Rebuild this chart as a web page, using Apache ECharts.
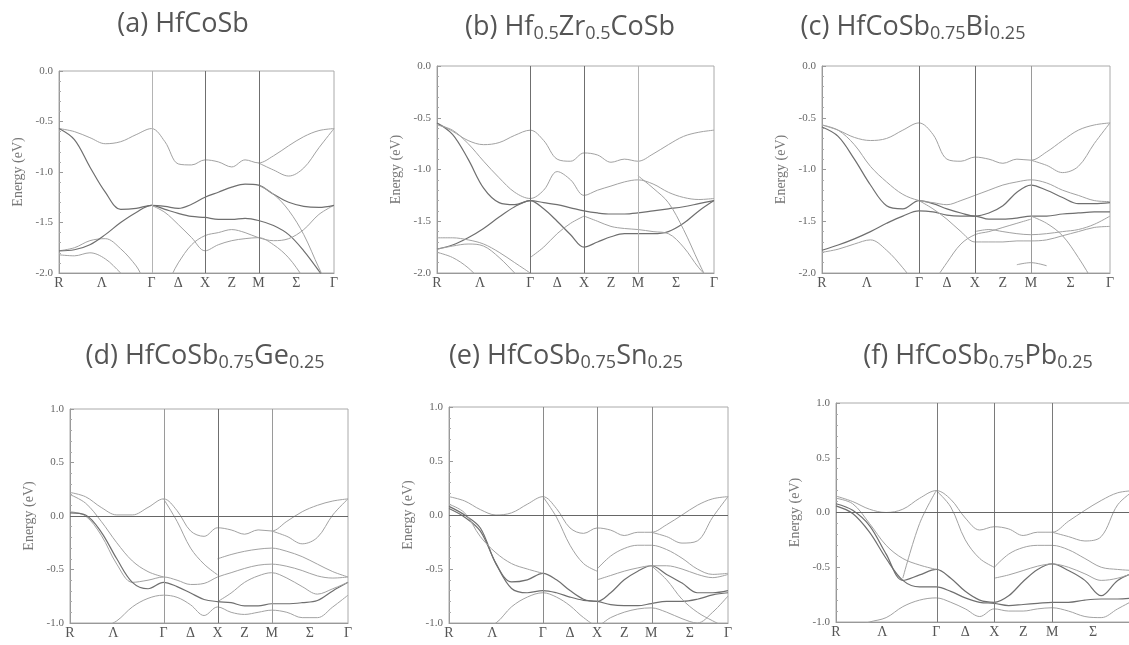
<!DOCTYPE html>
<html>
<head>
<meta charset="utf-8">
<script src="https://cdn.jsdelivr.net/npm/echarts@6/dist/echarts.min.js"></script>
<style>
  html, body { margin: 0; padding: 0; background: #ffffff; overflow: hidden; }
  #chart { width: 1129px; height: 645px; }
</style>
</head>
<body>
<div id="chart"></div>
<script>
const _ = null;

// k-path distance (units of 2π/a) at the sampled points along R → Γ → X → M → Γ
const kPoints = [0, 0.144, 0.289, 0.433, 0.577, 0.722, 0.866,
                 0.991, 1.116, 1.241, 1.366,
                 1.491, 1.616, 1.741, 1.866,
                 2.007, 2.149, 2.290, 2.432, 2.573];
const symmetryK = [0.866, 1.366, 1.866];
const tickK = [0, 0.40, 0.866, 1.116, 1.366, 1.616, 1.866, 2.22, 2.573];
const tickLabels = ['R', 'Λ', 'Γ', 'Δ', 'X', 'Z', 'M', 'Σ', 'Γ'];

// (a) HfCoSb — band energies (eV)
const bandsA = [
  [-0.57,-0.60,-0.66,-0.72,-0.70,-0.63,-0.57, -0.70,-0.92,-0.93,-0.88, -0.90,-0.95,-0.88,-0.91, -0.84,-0.74,-0.65,-0.59,-0.57],
  [-0.57,-0.68,-0.95,-1.20,-1.37,-1.36,-1.33, -1.37,-1.41,-1.44,-1.45, -1.47,-1.47,-1.46,-1.48, -1.53,-1.62,-1.78,-1.98,-2.20],
  [-1.78,-1.75,-1.68,-1.66,-1.76,-1.93,-2.15, -2.12,-1.90,-1.72,-1.63, -1.60,-1.57,-1.60,-1.65, -1.68,-1.66,-1.57,-1.42,-1.33],
  [-1.78,-1.77,-1.72,-1.62,-1.50,-1.40,-1.33, -1.34,-1.36,-1.32,-1.25, -1.20,-1.15,-1.12,-1.13, -1.22,-1.30,-1.34,-1.35,-1.33],
  [_,_,_,_,_,_,_, _,_,_,_, _,_,_,-0.91, -0.98,-1.04,-0.96,-0.76,-0.57],
  [_,_,_,_,_,_,_, _,_,_,_, _,_,_,-1.13, -1.22,-1.38,-1.62,-1.95,-2.25],
  [_,_,_,_,_,_,-1.33, -1.40,-1.52,-1.65,-1.78, -1.72,-1.68,-1.66,-1.65, -1.72,-1.85,-2.05,-2.25,-2.40],
  [-1.82,-1.83,-1.80,-1.86,-2.00,-2.15,_, _,_,_,_, _,_,_,_, _,_,_,_,_]
];

// (b) Hf0.5Zr0.5CoSb
const bandsB = [
  [-0.55,-0.63,-0.72,-0.76,-0.74,-0.67,-0.62, -0.72,-0.90,-0.92,-0.84, -0.86,-0.93,-0.90,-0.92, -0.85,-0.76,-0.68,-0.64,-0.62],
  [-0.55,-0.66,-0.90,-1.18,-1.32,-1.34,-1.30, -1.32,-1.34,-1.37,-1.40, -1.42,-1.43,-1.43,-1.42, -1.40,-1.38,-1.36,-1.33,-1.30],
  [-0.57,-0.62,-0.75,-0.92,-1.08,-1.22,-1.28, -1.20,-1.02,-1.10,-1.25, -1.20,-1.16,-1.12,-1.10, -1.14,-1.22,-1.27,-1.29,-1.28],
  [-1.77,-1.73,-1.66,-1.57,-1.46,-1.36,-1.30, -1.38,-1.50,-1.63,-1.75, -1.70,-1.65,-1.62,-1.62, -1.62,-1.60,-1.52,-1.40,-1.30],
  [-1.77,-1.74,-1.72,-1.74,-1.85,-2.00,-2.15, _,_,_,_, _,_,_,_, _,_,_,_,_],
  [-1.80,-1.85,-1.95,-2.10,_,_,_, _,_,_,-1.45, -1.50,-1.55,-1.57,-1.58, -1.60,-1.62,-1.75,-1.95,-2.10],
  [_,_,_,_,_,_,_, _,_,_,_, _,_,_,-1.06, -1.18,-1.32,-1.58,-1.90,-2.20],
  [_,_,_,_,_,_,-1.85, -1.75,-1.62,-1.52,-1.45, _,_,_,_, _,_,_,_,_],
  [-1.66,-1.66,-1.68,-1.72,-1.80,-1.90,-2.00, _,_,_,_, _,_,_,_, _,_,_,_,_]
];

// (c) HfCoSb0.75Bi0.25
const bandsC = [
  [-0.57,-0.62,-0.69,-0.72,-0.70,-0.62,-0.55, -0.66,-0.90,-0.92,-0.88, -0.90,-0.94,-0.90,-0.91, -0.83,-0.72,-0.62,-0.57,-0.55],
  [-0.59,-0.68,-0.90,-1.15,-1.35,-1.38,-1.30, -1.33,-1.38,-1.42,-1.45, -1.42,-1.35,-1.22,-1.15, -1.20,-1.27,-1.33,-1.33,-1.32],
  [-0.57,-0.62,-0.76,-0.97,-1.12,-1.24,-1.30, -1.32,-1.34,-1.30,-1.25, -1.20,-1.15,-1.12,-1.10, -1.13,-1.20,-1.25,-1.30,-1.31],
  [-1.78,-1.73,-1.67,-1.60,-1.52,-1.45,-1.40, -1.41,-1.44,-1.45,-1.45, -1.48,-1.48,-1.47,-1.45, -1.45,-1.43,-1.42,-1.41,-1.41],
  [-1.80,-1.77,-1.72,-1.68,-1.78,-1.95,-2.15, _,_,_,_, _,_,_,_, _,_,_,_,_],
  [_,_,_,_,_,_,-1.30, -1.38,-1.48,-1.60,-1.70, -1.70,-1.70,-1.69,-1.69, -1.68,-1.64,-1.60,-1.56,-1.55],
  [_,_,_,_,_,_,_, _,_,_,_, _,_,_,-1.45, -1.52,-1.64,-1.85,-2.10,-2.35],
  [_,_,_,_,_,_,_, _,_,_,_, _,_,_,-0.91, -0.96,-1.03,-0.97,-0.75,-0.55],
  [_,_,_,_,_,_,_, _,_,_,-1.60, -1.58,-1.60,-1.62,-1.63, -1.62,-1.60,-1.58,-1.53,-1.45],
  [_,_,_,_,_,_,_, -2.10,-1.90,-1.72,-1.63, -1.60,-1.56,-1.52,-1.48, _,_,_,_,_],
  [_,_,_,_,_,_,_, _,_,_,_, _,_,-1.92,-1.90, -1.93,_,_,_,_]
];

// (d) HfCoSb0.75Ge0.25
const bandsD = [
  [0.22,0.18,0.08,0.01,0.01,0.08,0.16, 0.05,-0.14,-0.19,-0.11, -0.13,-0.17,-0.13,-0.14, -0.05,0.04,0.10,0.14,0.16],
  [0.04,0.00,-0.18,-0.45,-0.62,-0.60,-0.57, -0.60,-0.64,-0.63,-0.57, -0.53,-0.49,-0.46,-0.45, -0.47,-0.51,-0.56,-0.58,-0.57],
  [0.03,0.01,-0.15,-0.40,-0.62,-0.68,-0.62, -0.66,-0.72,-0.78,-0.80, -0.81,-0.84,-0.84,-0.82, -0.82,-0.81,-0.79,-0.70,-0.62],
  [_,_,-1.05,-0.98,-0.85,-0.77,-0.74, -0.76,-0.83,-0.93,-0.85, -0.90,-0.92,-0.90,-0.88, -0.90,-0.95,-0.95,-0.85,-0.74],
  [_,_,_,_,_,_,_, _,_,_,-0.80, -0.72,-0.62,-0.56,-0.53, -0.58,-0.66,-0.73,-0.68,-0.62],
  [_,_,_,_,_,_,_, _,_,_,-0.40, -0.36,-0.33,-0.31,-0.30, -0.33,-0.38,-0.45,-0.52,-0.57],
  [_,_,_,_,_,_,_, _,_,_,_, _,_,_,-0.14, -0.19,-0.26,-0.20,0.01,0.16],
  [0.20,0.12,-0.05,-0.25,-0.42,-0.52,-0.57, _,_,_,_, _,_,_,_, _,_,_,_,_],
  [_,_,_,_,_,_,0.16, -0.05,-0.30,-0.45,-0.55, _,_,_,_, _,_,_,_,_]
];

// (e) HfCoSb0.75Sn0.25
const bandsE = [
  [0.17,0.13,0.05,0.00,0.02,0.10,0.17, 0.06,-0.12,-0.17,-0.12, -0.14,-0.19,-0.16,-0.16, -0.09,0.00,0.09,0.15,0.17],
  [0.08,0.00,-0.12,-0.45,-0.62,-0.60,-0.54, -0.60,-0.70,-0.78,-0.80, -0.72,-0.60,-0.52,-0.47, -0.55,-0.63,-0.72,-0.72,-0.70],
  [0.06,-0.02,-0.15,-0.45,-0.68,-0.72,-0.70, -0.72,-0.76,-0.79,-0.80, -0.83,-0.84,-0.84,-0.82, -0.80,-0.80,-0.78,-0.74,-0.72],
  [_,_,-1.05,-1.00,-0.85,-0.76,-0.72, -0.76,-0.84,-0.95,-1.02, -0.95,-0.90,-0.87,-0.86, -0.90,-0.96,-1.00,-0.90,-0.75],
  [_,_,_,_,_,_,_, _,_,_,-0.60, -0.56,-0.52,-0.49,-0.47, -0.47,-0.50,-0.55,-0.58,-0.55],
  [_,_,_,_,_,_,_, _,_,_,-0.50, -0.38,-0.31,-0.28,-0.28, -0.32,-0.40,-0.50,-0.55,-0.54],
  [_,_,_,_,_,_,_, _,_,_,_, _,_,_,-0.16, -0.20,-0.26,-0.24,-0.02,0.17],
  [0.10,0.02,-0.20,-0.35,-0.45,-0.50,-0.54, _,_,_,_, _,_,_,_, _,_,_,_,_],
  [_,_,_,_,_,_,0.17, -0.02,-0.28,-0.45,-0.52, _,_,_,_, _,_,_,_,_],
  [_,_,_,_,_,_,_, _,_,_,_, _,_,_,-0.47, -0.60,-0.78,-0.90,-0.98,-1.05]
];

// (f) HfCoSb0.75Pb0.25
const bandsF = [
  [0.15,0.10,0.03,0.00,0.03,0.13,0.20, 0.12,-0.05,-0.16,-0.13, -0.15,-0.21,-0.18,-0.18, -0.08,0.02,0.11,0.18,0.20],
  [0.08,0.02,-0.12,-0.38,-0.62,-0.57,-0.52, -0.60,-0.72,-0.80,-0.82, -0.76,-0.63,-0.52,-0.47, -0.53,-0.62,-0.76,-0.62,-0.55],
  [0.06,-0.01,-0.18,-0.42,-0.62,-0.68,-0.68, -0.72,-0.78,-0.82,-0.83, -0.85,-0.84,-0.83,-0.82, -0.82,-0.80,-0.79,-0.79,-0.78],
  [_,-1.05,-1.00,-0.96,-0.86,-0.80,-0.78, -0.82,-0.88,-0.95,-0.88, -0.90,-0.90,-0.88,-0.87, -0.90,-0.95,-0.96,-0.88,-0.80],
  [_,_,_,_,_,_,_, _,_,_,-0.60, -0.57,-0.53,-0.49,-0.47, -0.50,-0.56,-0.62,-0.60,-0.55],
  [_,_,_,_,_,_,_, _,_,_,-0.50, -0.38,-0.32,-0.30,-0.30, -0.34,-0.42,-0.50,-0.52,-0.53],
  [_,_,_,_,_,_,_, _,_,_,_, _,_,_,-0.18, -0.22,-0.26,-0.22,0.07,0.20],
  [0.13,0.08,-0.10,-0.30,-0.42,-0.48,-0.52, _,_,_,_, _,_,_,_, _,_,_,_,_],
  [_,_,_,_,_,_,0.20, 0.05,-0.25,-0.42,-0.50, _,_,_,_, _,_,_,_,_],
  [_,_,_,_,-0.60,-0.10,0.20, _,_,_,_, _,_,_,_, _,_,_,_,_]
];

const panelTitles = [
  '(a) HfCoSb',
  '(b) Hf{s|0.5}Zr{s|0.5}CoSb',
  '(c) HfCoSb{s|0.75}Bi{s|0.25}',
  '(d) HfCoSb{s|0.75}Ge{s|0.25}',
  '(e) HfCoSb{s|0.75}Sn{s|0.25}',
  '(f) HfCoSb{s|0.75}Pb{s|0.25}'
];
const energyRange = [[-2, 0], [-2, 0], [-2, 0], [-1, 1], [-1, 1], [-1, 1]];
const panelBands = [bandsA, bandsB, bandsC, bandsD, bandsE, bandsF];

// layout of the six plot frames (the last one runs past the right edge)
const frames = [
  { left: 59,  top: 71,  width: 275, height: 202 },
  { left: 437, top: 66,  width: 277, height: 207 },
  { left: 822, top: 66,  width: 288, height: 207 },
  { left: 70,  top: 409, width: 278, height: 214 },
  { left: 449, top: 407, width: 279, height: 216 },
  { left: 836, top: 403, width: 298, height: 219 }
];
const titlePos = [
  { x: 178, y: 6 }, { x: 565, y: 6 }, { x: 908, y: 6 },
  { x: 200, y: 335 }, { x: 561, y: 335 }, { x: 973, y: 335 }
];
// bands drawn in a heavier tone
const heavyBands = [[1, 3], [1, 3], [1, 3], [2], [1, 2], [1, 2]];
// tone of the Γ, X, M guide lines in each panel
const guideTones = [
  ['#b4b4b4', '#6f6f6f', '#6f6f6f'],
  ['#6f6f6f', '#6f6f6f', '#b4b4b4'],
  ['#6f6f6f', '#6f6f6f', '#9a9a9a'],
  ['#9a9a9a', '#6f6f6f', '#9a9a9a'],
  ['#8a8a8a', '#8a8a8a', '#8a8a8a'],
  ['#7a7a7a', '#7a7a7a', '#7a7a7a']
];

const serif = '"Liberation Serif", "DejaVu Serif", serif';
const sans = '"Open Sans", "Noto Sans", sans-serif';

const option = {
  animation: false,
  backgroundColor: '#ffffff',
  title: panelTitles.map((t, i) => ({
    text: t,
    left: titlePos[i].x,
    top: titlePos[i].y,
    textAlign: 'center',
    textStyle: {
      fontFamily: sans,
      fontSize: 27,
      fontWeight: 'normal',
      color: '#555555',
      rich: {
        s: { fontFamily: sans, fontSize: 18, color: '#555555', padding: [14, 0, 0, 0] }
      }
    }
  })),
  grid: frames.map(f => ({
    left: f.left, top: f.top, width: f.width, height: f.height,
    outerBoundsMode: 'none', containLabel: false,
    show: true, borderColor: '#aaaaaa', borderWidth: 1, backgroundColor: 'transparent'
  })),
  xAxis: frames.map((f, i) => ({
    type: 'value', gridIndex: i, min: 0, max: 2.573,
    axisLine: { show: true, onZero: false, lineStyle: { color: '#999999' } },
    axisTick: { show: false },
    splitLine: { show: false },
    axisLabel: {
      customValues: tickK,
      margin: 3,
      fontFamily: serif, fontSize: 14, color: '#555555',
      formatter: v => {
        const j = tickK.findIndex(t => Math.abs(t - v) < 1e-6);
        return j >= 0 ? tickLabels[j] : '';
      }
    }
  })),
  yAxis: frames.map((f, i) => ({
    type: 'value', gridIndex: i,
    min: energyRange[i][0], max: energyRange[i][1], interval: 0.5,
    name: 'Energy (eV)', nameLocation: 'middle', nameGap: 34, nameRotate: 90,
    nameTextStyle: { fontFamily: serif, fontSize: 14, color: '#777777' },
    axisLine: { show: true, onZero: false, lineStyle: { color: '#999999' } },
    axisTick: { show: true, inside: true, length: 4, lineStyle: { color: '#999999' } },
    minorTick: { show: true, splitNumber: 5, length: 2, lineStyle: { color: '#aaaaaa' } },
    splitLine: { show: false },
    axisLabel: {
      margin: 6, fontFamily: serif, fontSize: 11, color: '#666666',
      formatter: v => v.toFixed(1)
    }
  })),
  series: []
};

panelBands.forEach((bands, i) => {
  const guides = symmetryK.map((k, g) => ({ xAxis: k, lineStyle: { color: guideTones[i][g] } }));
  if (energyRange[i][0] < 0 && energyRange[i][1] > 0) {
    guides.push({ yAxis: 0, lineStyle: { color: '#666666' } });
  }
  option.series.push({
    type: 'line', xAxisIndex: i, yAxisIndex: i, data: [], silent: true,
    markLine: {
      silent: true, symbol: ['none', 'none'], label: { show: false },
      lineStyle: { width: 1, type: 'solid' },
      data: guides
    }
  });
  bands.forEach((band, b) => {
    const heavy = heavyBands[i].includes(b);
    option.series.push({
      type: 'line', xAxisIndex: i, yAxisIndex: i,
      data: kPoints.map((k, j) => [k, band[j]]),
      showSymbol: false, smooth: 0.35, connectNulls: false, clip: true, silent: true,
      lineStyle: { color: heavy ? '#6f6f6f' : '#a2a2a2', width: heavy ? 1.2 : 1 }
    });
  });
});

const chart = echarts.init(document.getElementById('chart'));
chart.setOption(option);
</script>
</body>
</html>
